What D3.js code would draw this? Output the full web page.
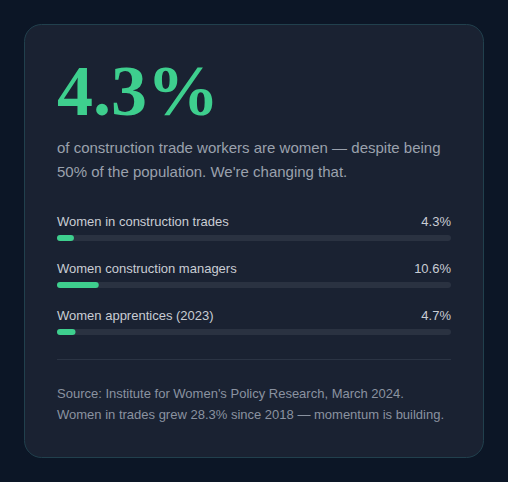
<!DOCTYPE html>
<html><head><meta charset="utf-8">
<script src="https://cdn.jsdelivr.net/npm/d3@7"></script>
<style>
html,body{margin:0;padding:0;background:#0c1626;}
svg{display:block;}
</style></head>
<body>
<svg id="chart" width="508" height="482"></svg>
<script>
const headline = "4.3%";
const subtitleLines = ["of construction trade workers are women \u2014 despite being", "50% of the population. We're changing that."];
const categories = ["Women in construction trades", "Women construction managers", "Women apprentices (2023)"];
const values = [4.3, 10.6, 4.7];
const valueLabels = ["4.3%", "10.6%", "4.7%"];
const footerLines = ["Source: Institute for Women's Policy Research, March 2024.", "Women in trades grew 28.3% since 2018 \u2014 momentum is building."];

const svg = d3.select("#chart");
const sans = "'Liberation Sans', Arial, Helvetica, sans-serif";

svg.append("rect").attr("width",508).attr("height",482).attr("fill","#0c1626");
svg.append("rect").attr("x",24.5).attr("y",24.5).attr("width",459).attr("height",433)
  .attr("rx",17).attr("fill","#1a2232").attr("stroke","#21404d").attr("stroke-width",1);

svg.append("text").attr("x",57).attr("y",115)
  .attr("font-family","'Liberation Serif', 'Times New Roman', serif").attr("font-weight","bold")
  .attr("font-size",72).attr("letter-spacing","0px").attr("fill","#3ecf8e").text(headline);

svg.append("g").selectAll("text").data(subtitleLines).join("text")
  .attr("x",57).attr("y",(d,i)=>153+i*24)
  .attr("font-family",sans).attr("font-size",15).attr("fill","#9aa1ad").text(d=>d);

const x = d3.scaleLinear().domain([0,100]).range([57,451]);
const y = d3.scaleBand().domain(categories).range([210,351]).padding(0);

const rows = svg.append("g").selectAll("g").data(categories).join("g")
  .attr("transform",d=>`translate(0,${y(d)})`);
rows.append("text").attr("x",57).attr("y",16)
  .attr("font-family",sans).attr("font-size",13).attr("fill","#c9cdd4").text(d=>d);
rows.append("text").attr("x",451).attr("y",16).attr("text-anchor","end")
  .attr("font-family",sans).attr("font-size",13).attr("fill","#c9cdd4").text((d,i)=>valueLabels[i]);
rows.append("rect").attr("x",x(0)).attr("y",25).attr("width",x(100)-x(0)).attr("height",6)
  .attr("rx",3).attr("fill","#2a3241");
rows.append("rect").attr("x",x(0)).attr("y",25).attr("width",(d,i)=>x(values[i])-x(0)).attr("height",6)
  .attr("rx",3).attr("fill","#3ecf8e");

svg.append("line").attr("x1",57).attr("x2",451).attr("y1",359.5).attr("y2",359.5)
  .attr("stroke","#2b3444").attr("stroke-width",1);

svg.append("g").selectAll("text").data(footerLines).join("text")
  .attr("x",57).attr("y",(d,i)=>398+i*20.8)
  .attr("font-family",sans).attr("font-size",13).attr("fill","#8a92a0").text(d=>d);
</script>
</body></html>
